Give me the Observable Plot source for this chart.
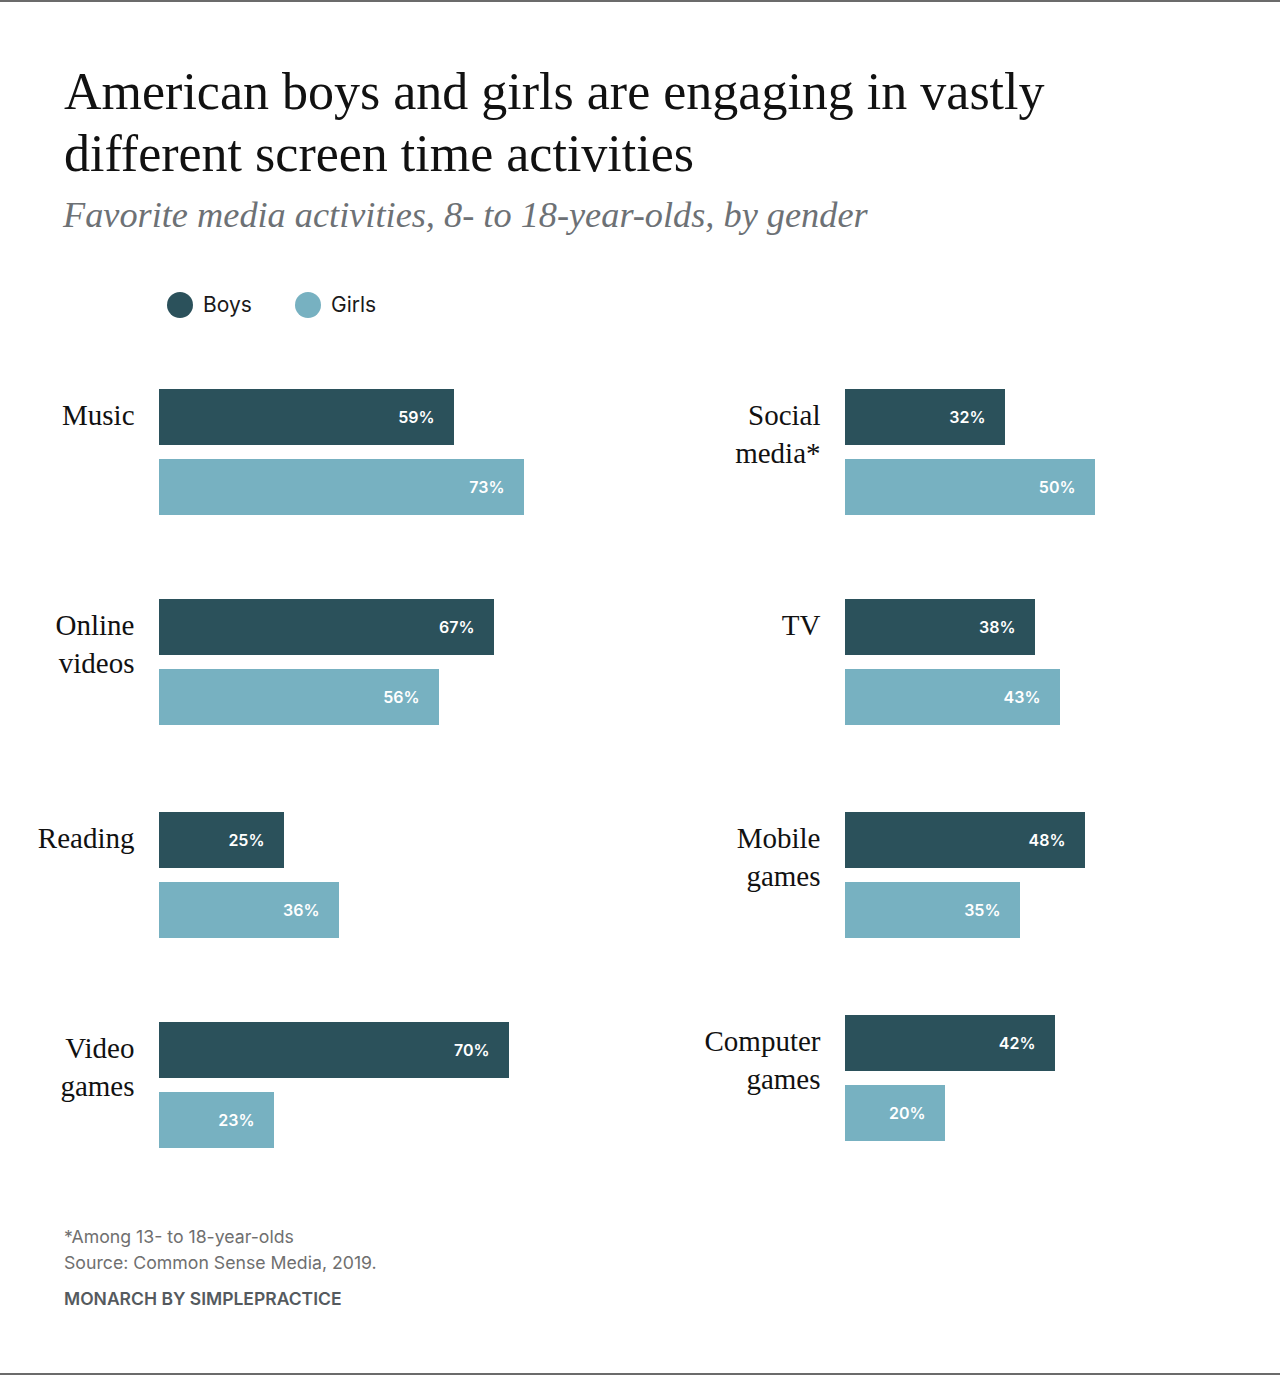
<!DOCTYPE html>
<html>
<head>
<meta charset="utf-8">
<script src="https://cdn.jsdelivr.net/npm/d3@7"></script>
<script src="https://cdn.jsdelivr.net/npm/@observablehq/plot@0.6"></script>
<style>
  body { margin: 0; background: #fff; }
  #page { position: relative; width: 1280px; height: 1375px; box-sizing: border-box;
          border-top: 2px solid #6b6b6b; border-bottom: 2px solid #6b6b6b; overflow: hidden;
          font-family: Inter, "Noto Sans", sans-serif; background: #fff; }
  .abs { position: absolute; margin: 0; white-space: nowrap; }
  #title { left: 64px; top: 59px; font-family: "Liberation Serif", serif; font-weight: 400;
           font-size: 52px; line-height: 62px; color: #111; }
  #subtitle { left: 63px; top: 193px; font-family: "Liberation Serif", serif; font-style: italic;
              font-size: 36.3px; line-height: 40px; color: #6d7175; }
  .dot { position: absolute; width: 26px; height: 26px; border-radius: 50%; }
  .legtext { position: absolute; font-size: 21px; line-height: 26px; color: #1a1a1a; }
  .foot { left: 64px; font-size: 17.7px; line-height: 26px; color: #6f6f6f; }
  #brand { left: 64px; top: 1284px; font-size: 17.5px; line-height: 26px; font-weight: 600;
           color: #555a5e; }
  .panel { position: absolute; }
  .panel svg { overflow: visible; }
</style>
</head>
<body>
<div id="page">
  <div id="title" class="abs"></div>
  <div id="subtitle" class="abs"></div>
  <div id="legend"></div>
  <div id="charts"></div>
  <div id="footer"></div>
</div>
<script>
// ---- data ----
const title = ["American boys and girls are engaging in vastly", "different screen time activities"];
const subtitle = "Favorite media activities, 8- to 18-year-olds, by gender";
const genders = ["Boys", "Girls"];
const genderColors = ["#2b515b", "#77b1c1"];
const categories = ["Music", "Online\nvideos", "Reading", "Video\ngames",
                    "Social\nmedia*", "TV", "Mobile\ngames", "Computer\ngames"];
const boysValues  = [59, 67, 25, 70, 32, 38, 48, 42];
const girlsValues = [73, 56, 36, 23, 50, 43, 35, 20];
const footnotes = ["*Among 13- to 18-year-olds", "Source: Common Sense Media, 2019."];
const brand = "MONARCH BY SIMPLEPRACTICE";

// ---- header ----
document.getElementById("title").innerHTML = title.join("<br>");
document.getElementById("subtitle").textContent = subtitle;

const legend = document.getElementById("legend");
const legendX = [167, 295];
genders.forEach((g, i) => {
  const d = document.createElement("div");
  d.className = "dot";
  d.style.left = legendX[i] + "px"; d.style.top = "290px";
  d.style.background = genderColors[i];
  legend.appendChild(d);
  const t = document.createElement("div");
  t.className = "legtext";
  t.style.left = (legendX[i] + 36) + "px"; t.style.top = "290px";
  t.textContent = g;
  legend.appendChild(t);
});

// ---- charts ----
const rows = categories.map((c, i) => ({
  category: c,
  data: genders.map((g, j) => ({gender: g, value: j === 0 ? boysValues[i] : girlsValues[i]}))
}));

const colLeft = [0, 640];
const colMarginLeft = [159, 205];
const rowTops = [[389, 599, 812, 1022], [389, 599, 812, 1015]];
const charts = document.getElementById("charts");

rows.forEach((r, i) => {
  const col = i < 4 ? 0 : 1;
  const row = i % 4;
  const mL = colMarginLeft[col];
  const chart = Plot.plot({
    width: 640,
    height: 126,
    marginTop: 0, marginBottom: 0,
    marginLeft: mL, marginRight: 640 - mL - 400,
    x: {domain: [0, 80], axis: null},
    y: {domain: genders, paddingInner: 0.2, paddingOuter: 0, axis: null},
    color: {domain: genders, range: genderColors},
    style: {background: "transparent", overflow: "visible"},
    marks: [
      Plot.barX(r.data, {x: "value", y: "gender", fill: "gender"}),
      Plot.text(r.data, {
        x: "value", y: "gender", text: d => d.value + "%",
        textAnchor: "end", dx: -20, fill: "#ffffff",
        fontFamily: "Inter, sans-serif", fontWeight: 600, fontSize: 16
      }),
      Plot.text([{label: r.category, gender: genders[0]}], {
        x: () => 0, y: "gender", text: "label",
        textAnchor: "end", lineAnchor: "top", dx: -25, dy: -19,
        lineHeight: 1.3, fill: "#111",
        fontFamily: "Liberation Serif, serif", fontSize: 29
      })
    ]
  });
  const wrap = document.createElement("div");
  wrap.className = "panel";
  wrap.style.left = colLeft[col] + "px";
  wrap.style.top = (rowTops[col][row] - 2) + "px";
  wrap.appendChild(chart);
  charts.appendChild(wrap);
});

// ---- footer ----
const footer = document.getElementById("footer");
footnotes.forEach((f, i) => {
  const d = document.createElement("div");
  d.className = "abs foot";
  d.style.top = (1222 + i * 26) + "px";
  d.textContent = f;
  footer.appendChild(d);
});
const b = document.createElement("div");
b.id = "brand"; b.className = "abs";
b.textContent = brand;
footer.appendChild(b);
</script>
</body>
</html>
